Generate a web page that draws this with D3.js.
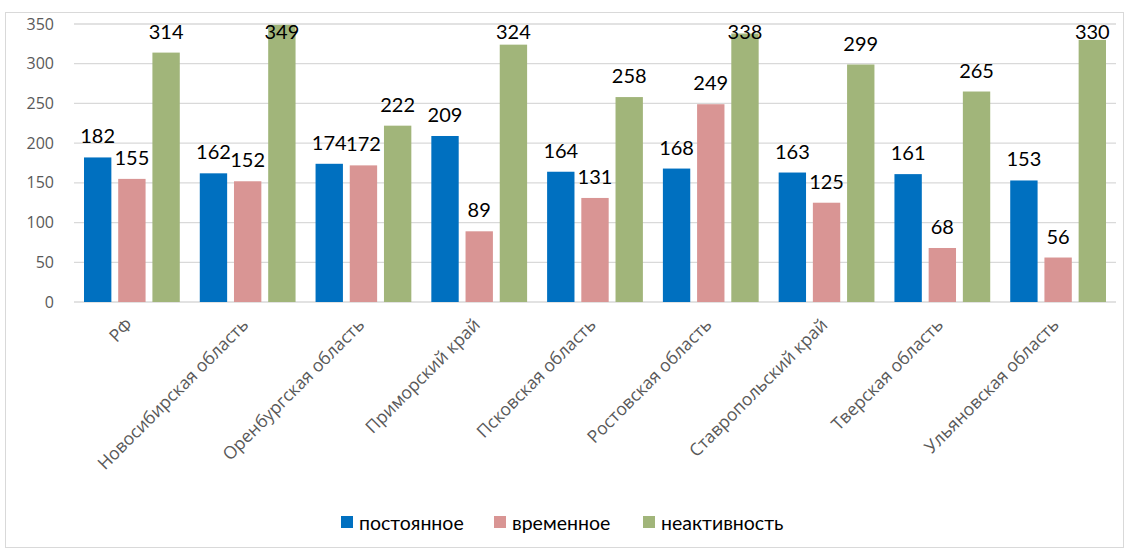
<!DOCTYPE html>
<html>
<head>
<meta charset="utf-8">
<script src="https://cdn.jsdelivr.net/npm/d3@7"></script>
<style>
  body { margin: 0; background: #fff; }
  .yaxis text { font-family: 'Open Sans', sans-serif; font-size: 16px; fill: #595959; }
  .xlabel { font-family: 'Open Sans', sans-serif; font-size: 17.5px; fill: #595959; }
  .displayValue { font-family: Lato, 'Open Sans', sans-serif; font-size: 20px; fill: #000; }
  .legendText { font-family: Lato, 'Open Sans', sans-serif; font-size: 19.5px; fill: #000; }
</style>
</head>
<body>
<div id="svgDiv"></div>
<script>
var categories = ['РФ', 'Новосибирская область', 'Оренбургская область', 'Приморский край',
  'Псковская область', 'Ростовская область', 'Ставропольский край', 'Тверская область', 'Ульяновская область']
var seriesNames = ['постоянное', 'временное', 'неактивность']
var postoyannoe = [182, 162, 174, 209, 164, 168, 163, 161, 153]
var vremennoe = [155, 152, 172, 89, 131, 249, 125, 68, 56]
var neaktivnost = [314, 349, 222, 324, 258, 338, 299, 265, 330]
var yTicks = [0, 50, 100, 150, 200, 250, 300, 350]

var colors = ['#0070c0', '#d99594', '#a1b57a']
var seriesValues = [postoyannoe, vremennoe, neaktivnost]

var svgWidth = 1129
var svgHeight = 550
var margin = {left: 74, right: 13, top: 24, bottom: 248}
var chartWidth = svgWidth - margin.left - margin.right
var chartHeight = svgHeight - margin.top - margin.bottom

var svg = d3.select('#svgDiv').append('svg')
  .attr('width', svgWidth)
  .attr('height', svgHeight)

// outer frame
svg.append('rect')
  .attr('x', 5.5).attr('y', 12.5)
  .attr('width', 1118).attr('height', 535)
  .attr('fill', 'none').attr('stroke', '#d9d9d9')

var chart = svg.append('g')
  .attr('transform', 'translate(' + margin.left + ',' + margin.top + ')')

var xScale = d3.scaleBand()
  .domain(categories)
  .range([0, chartWidth])
  .paddingInner(0)
  .paddingOuter(0)

var inner = d3.scaleBand()
  .domain(seriesNames)
  .range([10, xScale.bandwidth() - 10])
  .paddingInner(0.2)

var yScale = d3.scaleLinear()
  .domain([0, 350])
  .range([chartHeight, 0])

// gridlines
chart.append('g')
  .selectAll('line')
  .data(yTicks)
  .enter()
  .append('line')
  .attr('x1', 0).attr('x2', chartWidth)
  .attr('y1', function (d) { return yScale(d) }).attr('y2', function (d) { return yScale(d) })
  .attr('stroke', '#d9d9d9')
  .attr('stroke-width', 1.3)

var yAxis = d3.axisLeft(yScale).tickValues(yTicks).tickSize(0).tickPadding(20)
chart.append('g').attr('class', 'yaxis').call(yAxis)
  .call(function (g) { g.select('.domain').remove() })

var rows = []
seriesNames.forEach(function (s, si) {
  categories.forEach(function (c, ci) {
    rows.push({cat: c, series: s, si: si, value: seriesValues[si][ci]})
  })
})

chart.selectAll('.bar')
  .data(rows)
  .enter()
  .append('rect')
  .attr('class', 'bar')
  .attr('x', function (d) { return xScale(d.cat) + inner(d.series) })
  .attr('width', inner.bandwidth())
  .attr('y', function (d) { return yScale(d.value) })
  .attr('height', function (d) { return chartHeight - yScale(d.value) })
  .attr('fill', function (d) { return colors[d.si] })

chart.selectAll('.displayValue')
  .data(rows)
  .enter()
  .append('text')
  .attr('class', 'displayValue')
  .attr('text-anchor', 'middle')
  .attr('dominant-baseline', 'central')
  .attr('x', function (d) { return xScale(d.cat) + inner(d.series) + inner.bandwidth() / 2 })
  .attr('y', function (d) { return Math.max(yScale(d.value) - 22, 7) })
  .text(function (d) { return d.value })

// category labels, rotated
chart.selectAll('.xlabel')
  .data(categories)
  .enter()
  .append('text')
  .attr('class', 'xlabel')
  .attr('text-anchor', 'end')
  .attr('transform', function (d) {
    return 'translate(' + (xScale(d) + xScale.bandwidth() / 2 + 2) + ',' + (chartHeight + 24) + ') rotate(-45)'
  })
  .text(function (d) { return d })

// legend
var legendX = [341, 494, 643]
var legend = svg.append('g').selectAll('g')
  .data(seriesNames)
  .enter()
  .append('g')
  .attr('transform', function (d, i) { return 'translate(' + legendX[i] + ',516)' })
legend.append('rect')
  .attr('width', 12).attr('height', 12)
  .attr('fill', function (d, i) { return colors[i] })
legend.append('text')
  .attr('class', 'legendText')
  .attr('x', 18).attr('y', 6)
  .attr('dominant-baseline', 'central')
  .text(function (d) { return d })
</script>
</body>
</html>
